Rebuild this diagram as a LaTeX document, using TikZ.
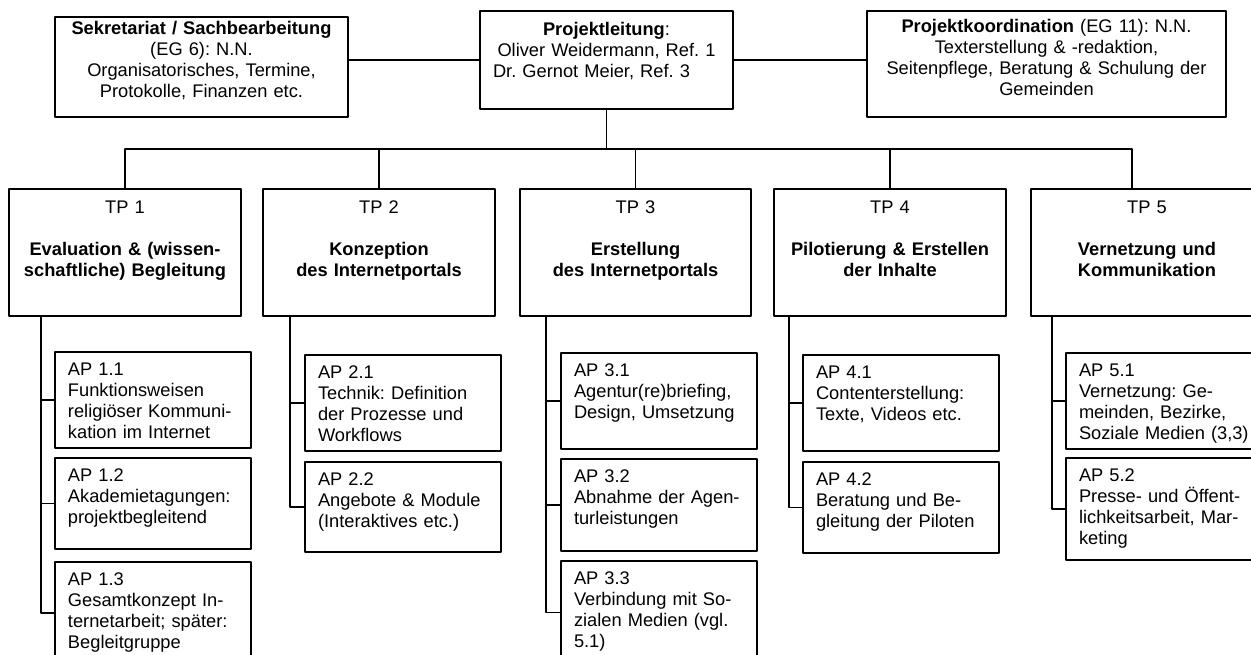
\documentclass[tikz,border=0pt]{standalone}
\usepackage{fontspec}
\setmainfont{Liberation Sans}
\usetikzlibrary{positioning,fit}
\frenchspacing

\begin{document}
\begin{tikzpicture}[x=0.02cm,y=-0.02cm,line width=0.9pt,line cap=round,line join=round,
  box/.style={draw,inner sep=0pt},
  boxtext/.style={inner sep=0pt,font=\fontsize{10.4}{12}\selectfont},
  aptext/.style={boxtext,text width=4cm,align=left},
  tptext/.style={boxtext,text width=4.4cm,align=center}]
  \useasboundingbox (0,0) rectangle (1251,654);
  % Leitungsebene
  \node[box,fit={(55,17) (348,117)},boxtext,align=center] (sek)
    {\textbf{Sekretariat / Sachbearbeitung}\\(EG 6): N.N.\\Organisatorisches, Termine,\\Protokolle, Finanzen etc.};
  \node[box,fit={(480,11) (733,109)}] (pl) {};
  \node[tptext,text width=4.9cm,below=0.23cm of pl.north] (plt)
    {\textbf{Projektleitung}:\\Oliver Weidermann, Ref. 1\\Dr. Gernot Meier, Ref. 3\rule{0.6cm}{0pt}};
  \node[box,fit={(867,11) (1226,117)},boxtext,align=center] (pk)
    {\textbf{Projektkoordination} (EG 11): N.N.\\Texterstellung \& -redaktion,\\Seitenpflege, Beratung \& Schulung der\\Gemeinden};
  \draw (pl.west) -- (pl.west -| sek.east);
  \draw (pl.east) -- (pl.east -| pk.west);
  % Teilprojekte
  \node[box,fit={(9,189) (241,316)}] (tp1) {};
  \node[box,fit={(263,189) (495,316)}] (tp2) {};
  \node[box,fit={(520,189) (751,316)}] (tp3) {};
  \node[box,fit={(774,189) (1006,316)}] (tp4) {};
  \node[box,fit={(1031,189) (1263,316)}] (tp5) {};
  \node[tptext,below=0.23cm of tp1.north] (tp1t) {TP 1\\[12pt]\textbf{Evaluation \& (wissen-}\\\textbf{schaftliche) Begleitung}};
  \node[tptext,below=0.23cm of tp2.north] (tp2t) {TP 2\\[12pt]\textbf{Konzeption}\\\textbf{des Internetportals}};
  \node[tptext,below=0.23cm of tp3.north] (tp3t) {TP 3\\[12pt]\textbf{Erstellung}\\\textbf{des Internetportals}};
  \node[tptext,below=0.23cm of tp4.north] (tp4t) {TP 4\\[12pt]\textbf{Pilotierung \& Erstellen}\\\textbf{der Inhalte}};
  \node[tptext,below=0.23cm of tp5.north] (tp5t) {TP 5\\[12pt]\textbf{Vernetzung und}\\\textbf{Kommunikation}};
  \coordinate (bus) at (607,149);
  \coordinate (tp5in) at (1132,189);
  \draw (pl.south) -- (pl.south |- bus);
  \draw (tp1.north) |- (tp5in |- bus) -- (tp5in);
  \foreach \t in {tp2,tp3,tp4}
    \draw (\t.north) -- (\t.north |- bus);
  % Arbeitspakete TP 1
  \node[box,fit={(55,352) (251,448)}] (ap11) {};
  \node[box,fit={(55,458) (251,549)}] (ap12) {};
  \node[box,fit={(55,562) (251,664)}] (ap13) {};
  \node[aptext,below right=0.21cm and 0.26cm of ap11.north west] (ap11t) {AP 1.1\\Funktionsweisen\\religiöser Kommuni-\\kation im Internet};
  \node[aptext,below right=0.21cm and 0.26cm of ap12.north west] (ap12t) {AP 1.2\\Akademietagungen:\\projektbegleitend};
  \node[aptext,below right=0.21cm and 0.26cm of ap13.north west] (ap13t) {AP 1.3\\Gesamtkonzept In-\\ternetarbeit; später:\\Begleitgruppe};
  % Arbeitspakete TP 2
  \node[box,fit={(305,355) (501,451)}] (ap21) {};
  \node[box,fit={(305,462) (501,552)}] (ap22) {};
  \node[aptext,below right=0.21cm and 0.26cm of ap21.north west] (ap21t) {AP 2.1\\Technik: Definition\\der Prozesse und\\Workflows};
  \node[aptext,below right=0.21cm and 0.26cm of ap22.north west] (ap22t) {AP 2.2\\Angebote \& Module\\(Interaktives etc.)};
  % Arbeitspakete TP 3
  \node[box,fit={(561,353) (757,449)}] (ap31) {};
  \node[box,fit={(561,459) (757,551)}] (ap32) {};
  \node[box,fit={(561,561) (757,664)}] (ap33) {};
  \node[aptext,below right=0.21cm and 0.26cm of ap31.north west] (ap31t) {AP 3.1\\Agentur(re)briefing,\\Design, Umsetzung};
  \node[aptext,below right=0.21cm and 0.26cm of ap32.north west] (ap32t) {AP 3.2\\Abnahme der Agen-\\turleistungen};
  \node[aptext,below right=0.21cm and 0.26cm of ap33.north west] (ap33t) {AP 3.3\\Verbindung mit So-\\zialen Medien (vgl.\\5.1)};
  % Arbeitspakete TP 4
  \node[box,fit={(803,355) (999,451)}] (ap41) {};
  \node[box,fit={(803,462) (999,553)}] (ap42) {};
  \node[aptext,below right=0.21cm and 0.26cm of ap41.north west] (ap41t) {AP 4.1\\Contenterstellung:\\Texte, Videos etc.};
  \node[aptext,below right=0.21cm and 0.26cm of ap42.north west] (ap42t) {AP 4.2\\Beratung und Be-\\gleitung der Piloten};
  % Arbeitspakete TP 5
  \node[box,fit={(1066,353) (1262,449)}] (ap51) {};
  \node[box,fit={(1066,458) (1262,560)}] (ap52) {};
  \node[aptext,below right=0.21cm and 0.26cm of ap51.north west] (ap51t) {AP 5.1\\Vernetzung: Ge-\\meinden, Bezirke,\\Soziale Medien (3,3)};
  \node[aptext,below right=0.21cm and 0.26cm of ap52.north west] (ap52t) {AP 5.2\\Presse- und Öffent-\\lichkeitsarbeit, Mar-\\keting};
  % Zuordnung TP -> AP
  \coordinate (s1) at (41,316);
  \coordinate (s2) at (290,316);
  \coordinate (s3) at (546,316);
  \coordinate (s4) at (789,316);
  \coordinate (s5) at (1052,316);
  \draw (s1) |- (ap13.west);
  \draw (ap11.west) -- (ap11.west -| s1);
  \draw (ap12.west) -- (ap12.west -| s1);
  \draw (s2) |- (ap22.west);
  \draw (ap21.west) -- (ap21.west -| s2);
  \draw (s3) |- (ap33.west);
  \draw (ap31.west) -- (ap31.west -| s3);
  \draw (ap32.west) -- (ap32.west -| s3);
  \draw (s4) |- (ap42.west);
  \draw (ap41.west) -- (ap41.west -| s4);
  \draw (s5) |- (ap52.west);
  \draw (ap51.west) -- (ap51.west -| s5);
\end{tikzpicture}
\end{document}
